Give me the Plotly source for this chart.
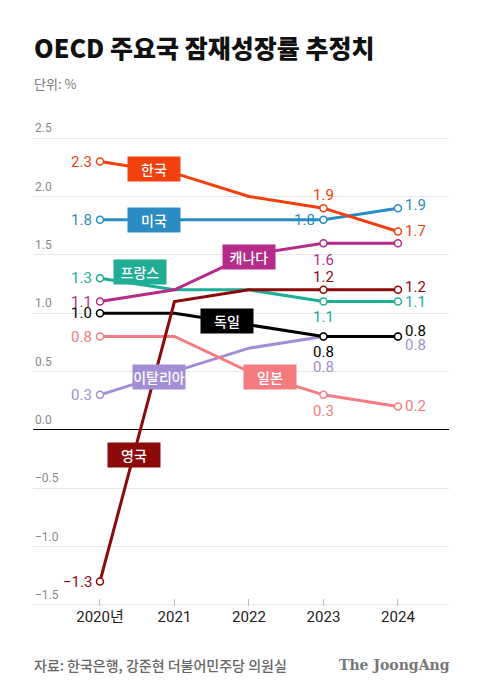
import plotly.graph_objects as go

# ---- data ----
years = [2020, 2021, 2022, 2023, 2024]
tick_labels = ["2020년", "2021", "2022", "2023", "2024"]
y_ticks = [-1.5, -1.0, -0.5, 0.0, 0.5, 1.0, 1.5, 2.0, 2.5]
korea = [2.3, 2.2, 2.0, 1.9, 1.7]
usa = [1.8, 1.8, 1.8, 1.8, 1.9]
canada = [1.1, 1.2, 1.5, 1.6, 1.6]
france = [1.3, 1.2, 1.2, 1.1, 1.1]
uk = [-1.3, 1.1, 1.2, 1.2, 1.2]
germany = [1.0, 1.0, 0.9, 0.8, 0.8]
japan = [0.8, 0.8, 0.5, 0.3, 0.2]
italy = [0.3, 0.5, 0.7, 0.8, 0.8]
names = {"korea": "한국", "usa": "미국", "canada": "캐나다", "france": "프랑스",
         "uk": "영국", "germany": "독일", "japan": "일본", "italy": "이탈리아"}

# ---- styles ----
colors = {"korea": "#f2400e", "usa": "#2b8cc4", "canada": "#b62a8a", "france": "#20ad96",
          "uk": "#8c0a0a", "germany": "#000000", "japan": "#f47c80", "italy": "#a38ed6"}
series = {"korea": korea, "usa": usa, "canada": canada, "france": france,
          "uk": uk, "germany": germany, "japan": japan, "italy": italy}
draw_order = ["italy", "japan", "germany", "france", "uk", "usa", "canada", "korea"]

# label placement per series: (index, anchor, xshift, yshift)
label_pos = {
    "korea": [(0, "left", -6, 0), (3, "above", 0, 13), (4, "right", 5, 1)],
    "usa": [(0, "left", -6, 0), (3, "left", -6, 0), (4, "right", 5, 3)],
    "canada": [(0, "left", -6, 0), (3, "below", 0, -17)],
    "france": [(0, "left", -6, 0), (3, "below", 0, -15), (4, "right", 5, 0)],
    "uk": [(0, "left", -6, 0), (3, "above", 0, 13), (4, "right", 5, 3)],
    "germany": [(0, "left", -6, 0), (3, "below", 0, -15), (4, "right", 5, 6)],
    "japan": [(0, "left", -6, 0), (3, "below", 0, -16), (4, "right", 5, 1)],
    "italy": [(0, "left", -6, 0), (3, "below", 0, -30), (4, "right", 5, -8)],
}
# name box centres (data coords)
box_pos = {"korea": (2020.725, 2.239), "usa": (2020.725, 1.802), "france": (2020.537, 1.353),
           "canada": (2022.0, 1.481), "germany": (2021.705, 0.933), "italy": (2020.792, 0.454),
           "japan": (2022.282, 0.454), "uk": (2020.456, -0.214)}

FONT = "Roboto, Noto Sans CJK KR, sans-serif"
KFONT = "Noto Sans CJK KR, sans-serif"

fig = go.Figure()
for key in draw_order:
    vals = series[key]
    fig.add_trace(go.Scatter(
        x=years, y=vals, mode="lines+markers",
        line=dict(color=colors[key], width=3),
        marker=dict(symbol="circle", size=7, color="white",
                    line=dict(color=colors[key], width=1.5),
                    opacity=[1, 0, 0, 1, 1]),
        hoverinfo="skip", showlegend=False))

def fmt(v):
    s = f"{abs(v):.1f}"
    return ("\u2212" + s) if v < 0 else s

annotations = []
# y tick labels: left aligned, sitting on top of gridlines
for t in y_ticks:
    annotations.append(dict(
        x=0, y=t, xref="paper", yref="y", text=fmt(t), showarrow=False,
        xanchor="left", yanchor="bottom", yshift=1,
        font=dict(family=FONT, size=12, color="#888888")))

for key in draw_order:
    vals = series[key]
    for idx, where, xs, ys in label_pos[key]:
        xa = {"left": "right", "right": "left", "above": "center", "below": "center"}[where]
        annotations.append(dict(
            x=years[idx], y=vals[idx], xref="x", yref="y", text=fmt(vals[idx]),
            showarrow=False, xanchor=xa, yanchor="middle", xshift=xs, yshift=ys,
            font=dict(family=FONT, size=15, color=colors[key])))

for key, (bx, by) in box_pos.items():
    annotations.append(dict(
        x=bx, y=by, xref="x", yref="y", text=names[key], showarrow=False,
        xanchor="center", yanchor="middle", bgcolor=colors[key], width=52, height=24,
        borderpad=0, font=dict(family=KFONT, size=14, color="white", weight=500)))

# title, unit, footer
annotations += [
    dict(x=-0.0024, y=1.192, xref="paper", yref="paper", xanchor="left", yanchor="middle",
         text="OECD 주요국 잠재성장률 추정치", showarrow=False,
         font=dict(family=KFONT, size=25, color="#111111", weight=900)),
    dict(x=-0.0024, y=1.115, xref="paper", yref="paper", xanchor="left", yanchor="middle",
         text="단위: %", showarrow=False, font=dict(family=KFONT, size=13, color="#777777")),
    dict(x=-0.0024, y=-0.126, xref="paper", yref="paper", xanchor="left", yanchor="middle",
         text="자료: 한국은행, 강준현 더불어민주당 의원실", showarrow=False,
         font=dict(family=KFONT, size=14, color="#666666", weight=500)),
    dict(x=1.007, y=-0.126, xref="paper", yref="paper", xanchor="right", yanchor="middle",
         text="<b>The JoongAng</b>", showarrow=False,
         font=dict(family="DejaVu Serif, Liberation Serif, serif", size=14, color="#777777")),
]

# page body has an 8px margin, so the figure is drawn 8px smaller and offset
fig.update_layout(
    width=472, height=686,
    margin=dict(l=25, r=31, t=129, b=88),
    paper_bgcolor="white", plot_bgcolor="white",
    annotations=annotations,
    xaxis=dict(range=[2019.101, 2024.685], tickvals=years, ticktext=tick_labels,
               showgrid=False, zeroline=False, showline=False,
               ticks="inside", ticklen=7, tickcolor="#bbbbbb", tickwidth=1,
               tickfont=dict(family=FONT, size=15, color="#222222"), fixedrange=True),
    yaxis=dict(range=[-1.51, 2.51], tickvals=y_ticks, showticklabels=False,
               showgrid=True, gridcolor="#e6e6e6", gridwidth=1,
               zeroline=True, zerolinecolor="#000000", zerolinewidth=1,
               ticks="", fixedrange=True),
)

fig.write_html("out.html")
